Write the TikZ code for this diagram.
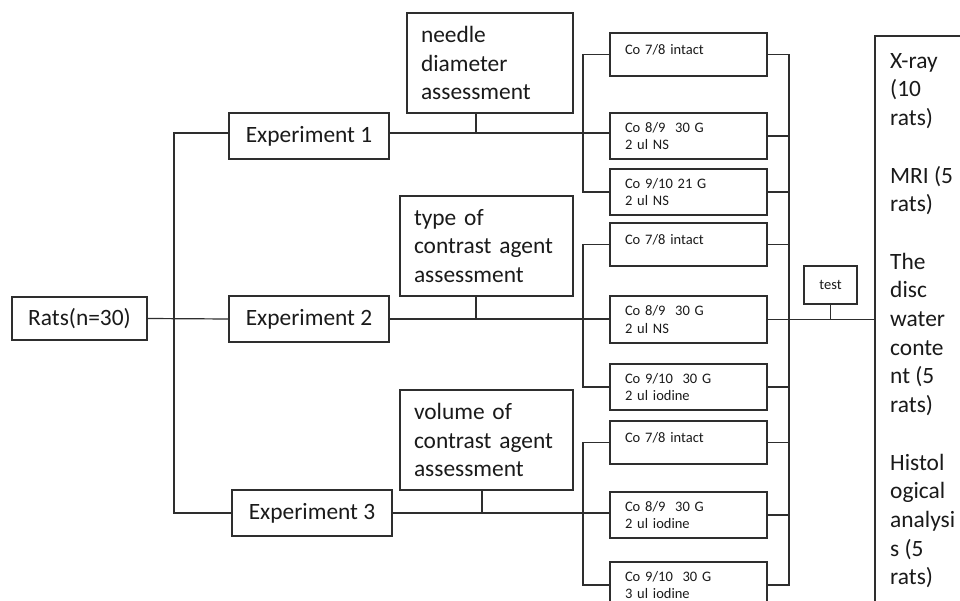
\documentclass[tikz,border=0pt]{standalone}
\usepackage{fontspec}
\setmainfont{Carlito}
\usetikzlibrary{calc}
\definecolor{ln}{HTML}{2E2E2E}
\definecolor{tx}{HTML}{1A1A1A}
\tikzset{
  box/.style={draw=ln, line width=1.2pt, inner sep=0pt, outer sep=0pt, text=tx},
  big/.style={font=\fontsize{23.4}{28.7}\selectfont},
  small/.style={font=\fontsize{14.5}{17.7}\selectfont},
  cobox/.style={box, small, minimum width=157pt, text width=127pt, align=left},
  one/.style={minimum height=43pt, text height=10pt, text depth=10pt},
  two/.style={minimum height=46pt},
  conn/.style={draw=ln, line width=1.2pt},
}
\begin{document}
\begin{tikzpicture}[x=1pt,y=-1pt]
\useasboundingbox (0,0) rectangle (960,601);
\clip (0,0) rectangle (960,601);
\fill[white] (0,0) rectangle (960,601);

\node[box, big, minimum width=135pt, minimum height=43pt] (rats) at (79.5,318.5) {Rats(n=30)};
\node[box, big, minimum width=160pt, minimum height=46pt] (exp1) at (309,136) {Experiment 1};
\node[box, big, minimum width=160pt, minimum height=46pt] (exp2) at (309,319) {Experiment 2};
\node[box, big, minimum width=160pt, minimum height=46pt] (exp3) at (312,513) {Experiment 3};

\node[box, big, minimum width=166pt, minimum height=100pt, text width=138pt, align=left] (needle) at (490,63) {needle\\diameter\\assessment};
\node[box, big, minimum width=173pt, minimum height=100pt, text width=145pt, align=left] (type) at (486.5,246) {type of\\contrast agent\\assessment};
\node[box, big, minimum width=173pt, minimum height=100pt, text width=145pt, align=left] (vol) at (486.5,440) {volume of\\contrast agent\\assessment};

\node[cobox, one] (c1) at (688.5,54.5) {Co 7/8 intact};
\node[cobox, two] (c2) at (688.5,136) {Co 8/9\ \ 30 G\\2 ul NS};
\node[cobox, two] (c3) at (688.5,192) {Co 9/10 21 G\\2 ul NS};
\node[cobox, one] (c4) at (688.5,244.5) {Co 7/8 intact};
\node[cobox, two, minimum height=47pt] (c5) at (688.5,319.5) {Co 8/9\ \ 30 G\\2 ul NS};
\node[cobox, two] (c6) at (688.5,387) {Co 9/10\ \ 30 G\\2 ul iodine};
\node[cobox, one] (c7) at (688.5,442.5) {Co 7/8 intact};
\node[cobox, two] (c8) at (688.5,515) {Co 8/9\ \ 30 G\\2 ul iodine};
\node[cobox, two] (c9) at (688.5,585) {Co 9/10\ \ 30 G\\3 ul iodine};

\node[box, small, minimum width=53pt, minimum height=38pt] (test) at (830.5,285) {test};

\node[box, minimum width=130pt, minimum height=600pt, anchor=north west] (res) at (875,36) {};
\node[anchor=north west, big, align=left, inner sep=0pt, text=tx] (restxt) at (890,53)
  {X-ray\\(10\\rats)\\[28.7pt]MRI (5\\rats)\\[28.7pt]The\\disc\\water\\conte\\nt (5\\rats)\\[28.7pt]Histol\\ogical\\analysi\\s (5\\rats)};

\coordinate (tr) at (174,0);
\coordinate (lb) at (583,0);
\coordinate (rb) at (789,0);
\coordinate (s1) at (476,0);
\coordinate (s3) at (482,0);
\coordinate (e1w) at ([yshift=3pt]exp1.west);
\coordinate (e1e) at ([yshift=3pt]exp1.east);

\draw[conn] (rats.east) -- (exp2.west);
\draw[conn] (e1w) -- (e1w -| tr) -- (exp3.west -| tr) -- (exp3.west);
\draw[conn] (e1e) -- (e1e -| c2.west);
\draw[conn] (s1 |- needle.south) -- (s1 |- e1e);
\draw[conn] (exp2.east) -- (exp2.east -| c5.west);
\draw[conn] (s1 |- type.south) -- (s1 |- exp2.east);
\draw[conn] (exp3.east) -- (exp3.east -| c8.west);
\draw[conn] (s3 |- vol.south) -- (s3 |- exp3.east);

\draw[conn] (c1.west) -- (c1.west -| lb) -- (c3.west -| lb) -- (c3.west);
\draw[conn] (c4.west) -- (c4.west -| lb) -- (c6.west -| lb) -- (c6.west);
\draw[conn] (c7.west) -- (c7.west -| lb) -- (c9.west -| lb) -- (c9.west);

\draw[conn] (c1.east) -- (c1.east -| rb) -- (c9.east -| rb) -- (c9.east);
\foreach \n in {c2,c3,c4,c5,c6,c7,c8}
  \draw[conn] (\n.east) -- (\n.east -| rb);
\draw[conn] (c5.east -| rb) -- (c5.east -| res.west);
\draw[conn] (test.south) -- (test.south |- c5.east);
\end{tikzpicture}
\end{document}
